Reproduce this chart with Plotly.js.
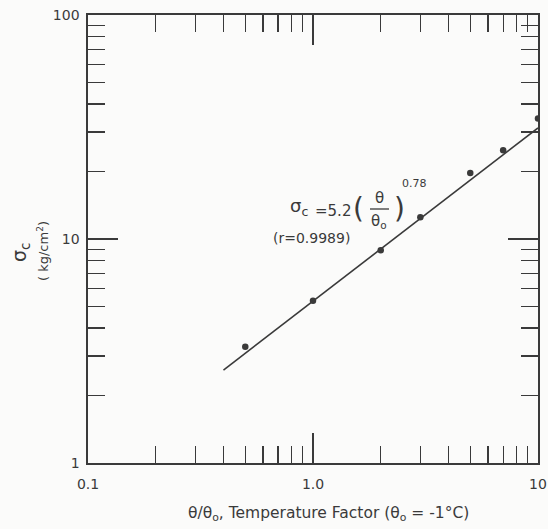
<!DOCTYPE html>
<html>
<head>
<meta charset="utf-8">
<script src="https://cdn.plot.ly/plotly-3.0.1.min.js"></script>
<style>
html,body{margin:0;padding:0;background:#fbfbfa;}
#chart{width:548px;height:529px;}
</style>
</head>
<body>
<div id="chart"></div>
<script>
// Data
const xPts = [0.5, 1, 2, 3, 5, 7, 10];
const yPts = [3.3, 5.3, 8.9, 12.5, 19.7, 24.9, 34.5];
const fitX = [0.4, 10];
const fitY = [2.6, 31.3];

const xMajorVals = [0.1, 1, 10];
const xMajorText = ['0.1', '1.0', '10'];
const xMinorVals = [0.2,0.3,0.4,0.5,0.6,0.7,0.8,0.9,2,3,4,5,6,7,8,9];
const yMajorVals = [1, 10, 100];
const yMajorText = ['1', '10', '100'];
const yMinorVals = [2,3,4,5,6,7,8,9,20,30,40,50,60,70,80,90];

const ink = '#3a3a3a';
const fontFam = 'DejaVu Sans, Liberation Sans, sans-serif';

const traces = [
  {
    x: fitX, y: fitY, mode: 'lines', type: 'scatter',
    line: {color: ink, width: 1.6}, hoverinfo: 'skip'
  },
  {
    x: xPts, y: yPts, mode: 'markers', type: 'scatter',
    marker: {color: ink, size: 6.5}
  }
];

const axisCommon = {
  type: 'log',
  showgrid: false, zeroline: false,
  showline: true, linecolor: ink, linewidth: 1.6,
  mirror: 'ticks',
  ticks: 'inside', ticklen: 30, tickwidth: 1.5, tickcolor: ink,
  tickmode: 'array',
  tickfont: {family: fontFam, size: 14, color: ink}
};

function px(p) { return (p - 88) / 450; }
function py(p) { return (463 - p) / 448; }
function ann(x, y, text, size, extra) {
  return Object.assign({
    xref: 'paper', yref: 'paper', x: px(x), y: py(y), text: text,
    xanchor: 'center', yanchor: 'middle', showarrow: false, borderpad: 0,
    font: {family: fontFam, size: size, color: ink}
  }, extra || {});
}

const layout = {
  width: 548, height: 529,
  margin: {l: 88, r: 10, t: 15, b: 66},
  paper_bgcolor: '#fbfbfa', plot_bgcolor: '#fbfbfa',
  showlegend: false,
  xaxis: Object.assign({}, axisCommon, {
    range: [-1, 1],
    tickvals: xMajorVals, ticktext: xMajorText,
    ticklabelstandoff: 8,
    minor: {tickmode: 'array', tickvals: xMinorVals, ticks: 'inside', ticklen: 17, tickwidth: 1.3, tickcolor: ink}
  }),
  yaxis: Object.assign({}, axisCommon, {
    range: [0, 2],
    tickvals: yMajorVals, ticktext: yMajorText,
    ticklabelstandoff: 4,
    minor: {tickmode: 'array', tickvals: yMinorVals, ticks: 'inside', ticklen: 17, tickwidth: 1.3, tickcolor: ink}
  }),
  shapes: [
    // fraction bar of the equation
    {type: 'line', xref: 'paper', yref: 'paper', x0: px(370), x1: px(389), y0: py(209), y1: py(209), line: {color: ink, width: 1.3}}
  ],
  annotations: [
    // equation
    ann(299, 207, 'σ<sub>c</sub>', 18),
    ann(333, 211, '=5.2', 15),
    ann(358, 208, '(', 28),
    ann(379, 198, 'θ', 15),
    ann(379, 221, 'θ<sub>o</sub>', 15),
    ann(399, 208, ')', 28),
    ann(414, 183, '0.78', 11),
    ann(311, 238, '(r=0.9989)', 14),
    // y-axis title
    ann(20, 253, 'σ<sub>c</sub>', 19, {textangle: -90}),
    ann(43, 251, '( kg/cm<sup>2</sup>)', 13, {textangle: -90}),
    // x-axis title
    ann(328, 514, 'θ/θ<sub>o</sub>, Temperature Factor (θ<sub>o</sub> = -1°C)', 15.5)
  ]
};

Plotly.newPlot('chart', traces, layout, {displayModeBar: false, staticPlot: true});
</script>
</body>
</html>
